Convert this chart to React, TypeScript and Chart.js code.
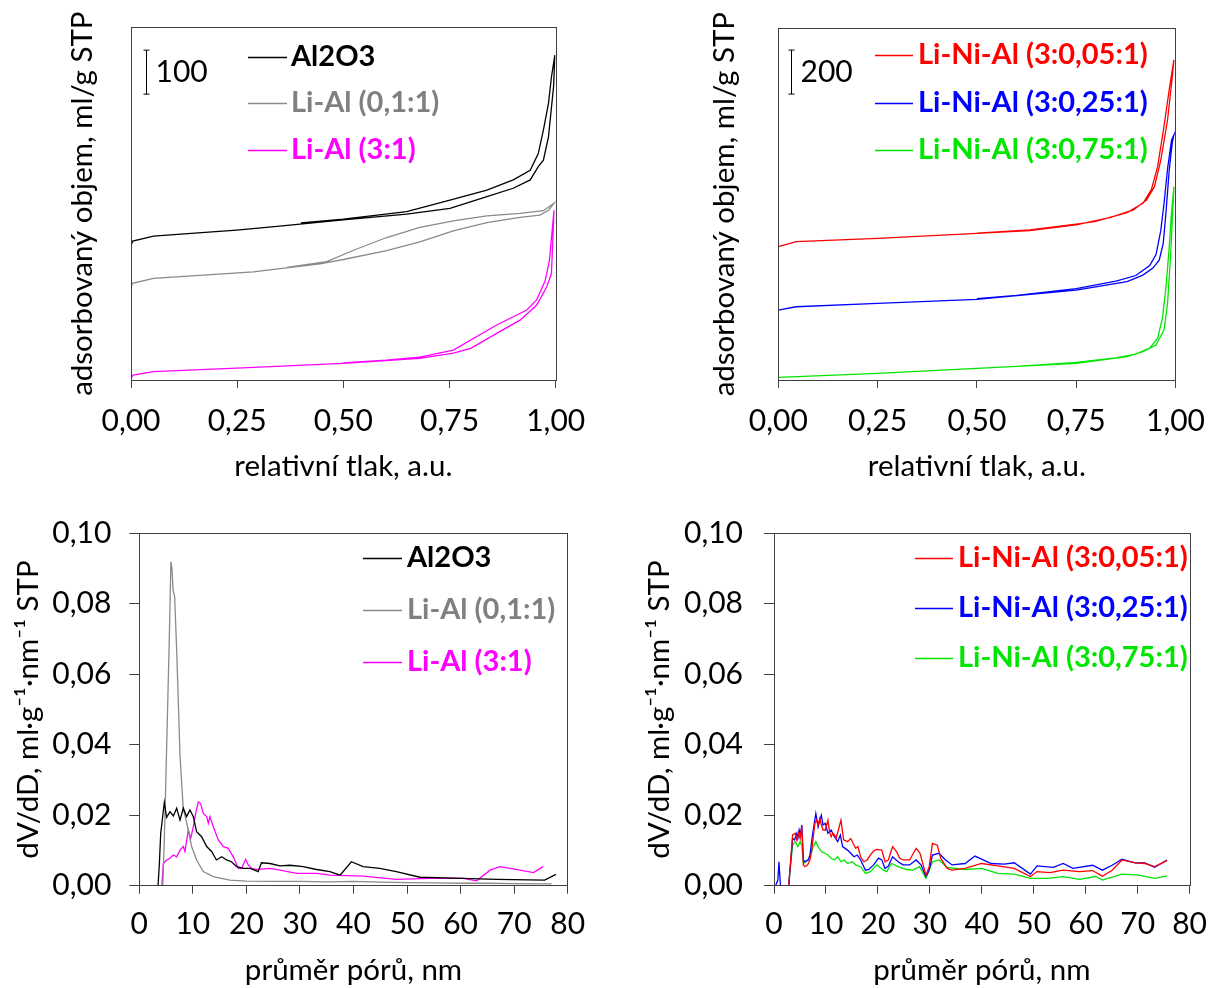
import React, { useEffect, useRef } from 'react';
import { Chart, registerables } from 'chart.js';

Chart.register(...registerables);

const FONT = 'Lato, "Noto Sans", sans-serif';
const FS_TICK = 30;
const FS_TITLE = 29.5;
const FS_LEGEND = 29;

// ---------- Top-left: isotherms (relative pressure vs adsorbed volume, offset curves) ----------
const al2o3AdsX = [0.0, 0.004, 0.053, 0.15, 0.249, 0.35, 0.5, 0.649, 0.751, 0.838, 0.9, 0.94, 0.959, 0.971, 0.983, 0.995, 0.998];
const al2o3AdsY = [306, 316, 327, 334, 341, 350, 364, 377, 390, 417, 436, 455, 485, 500, 553, 667, 739];
const al2o3DesX = [0.998, 0.99, 0.983, 0.971, 0.959, 0.94, 0.9, 0.838, 0.751, 0.649, 0.5, 0.4];
const al2o3DesY = [739, 689, 629, 568, 515, 477, 455, 432, 409, 383, 366, 357];

const liAl01AdsX = [0.0, 0.003, 0.053, 0.288, 0.445, 0.5, 0.602, 0.68, 0.759, 0.838, 0.916, 0.963, 0.983, 0.996];
const liAl01AdsY = [208, 220, 231, 246, 264, 274, 294, 314, 339, 358, 370, 375, 386, 402];
const liAl01DesX = [0.996, 0.971, 0.916, 0.838, 0.759, 0.68, 0.602, 0.524, 0.461, 0.367];
const liAl01DesY = [402, 385, 379, 373, 362, 347, 324, 295, 269, 256];

const liAl31AdsX = [0.0, 0.005, 0.053, 0.249, 0.5, 0.68, 0.759, 0.8, 0.861, 0.916, 0.955, 0.979, 0.99, 0.996];
const liAl31AdsY = [4, 11, 19, 27, 38, 49, 61, 72, 106, 136, 170, 212, 242, 386];
const liAl31DesX = [0.996, 0.985, 0.975, 0.955, 0.932, 0.861, 0.759, 0.68, 0.6, 0.5];
const liAl31DesY = [386, 270, 225, 182, 159, 125, 68, 52, 45, 39];

// ---------- Top-right: isotherms Li-Ni-Al ----------
const ni005AdsX = [0.0, 0.045, 0.25, 0.5, 0.633, 0.75, 0.837, 0.894, 0.927, 0.947, 0.963, 0.98, 0.992, 0.996];
const ni005AdsY = [606, 629, 644, 667, 679, 705, 739, 773, 818, 879, 1000, 1182, 1379, 1455];
const ni005DesX = [0.996, 0.984, 0.971, 0.955, 0.939, 0.918, 0.878, 0.796, 0.75, 0.633, 0.5];
const ni005DesY = [1455, 1318, 1152, 970, 864, 803, 761, 720, 709, 682, 668];

const ni025AdsX = [0.0, 0.045, 0.25, 0.5, 0.75, 0.878, 0.918, 0.943, 0.959, 0.969, 0.976, 0.984, 0.992, 0.996];
const ni025AdsY = [318, 333, 348, 367, 409, 447, 477, 509, 545, 620, 760, 950, 1080, 1114];
const ni025DesX = [0.996, 0.99, 0.98, 0.971, 0.963, 0.951, 0.935, 0.9, 0.85, 0.75, 0.6, 0.5];
const ni025DesY = [1114, 1090, 960, 800, 680, 570, 520, 475, 450, 415, 385, 370];

const ni075AdsX = [0.0, 0.25, 0.5, 0.75, 0.878, 0.918, 0.951, 0.971, 0.98, 0.988, 0.996];
const ni075AdsY = [12, 30, 53, 76, 106, 129, 159, 227, 348, 576, 879];
const ni075DesX = [0.996, 0.99, 0.984, 0.976, 0.967, 0.955, 0.935, 0.9, 0.85, 0.75, 0.6];
const ni075DesY = [879, 760, 600, 420, 280, 190, 145, 118, 100, 80, 62];

// ---------- Bottom-left: pore size distribution ----------
const psdAl2o3X = [3.3, 3.5, 3.74, 4.0, 4.67, 5.1, 5.73, 6.35, 6.98, 7.6, 8.22, 8.84, 9.46, 10.09, 10.7, 11.64, 12.58, 13.5, 14.4, 15.4, 16.3, 17.2, 18.2, 19.4, 20.7, 22.2, 22.8, 24.4, 26.3, 28.1, 30.6, 33.1, 35.6, 37.5, 39.6, 41.8, 44.9, 48.0, 52.4, 60.5, 66.7, 75.7, 77.8];
const psdAl2o3Y = [0, 0, 0.006, 0.0149, 0.0236, 0.0194, 0.021, 0.0198, 0.022, 0.0186, 0.022, 0.0196, 0.0215, 0.0196, 0.0153, 0.0139, 0.0111, 0.0097, 0.0073, 0.0082, 0.0073, 0.0068, 0.0054, 0.0049, 0.0049, 0.004, 0.0065, 0.0063, 0.0056, 0.0058, 0.0054, 0.0046, 0.004, 0.003, 0.0068, 0.0054, 0.0049, 0.004, 0.0024, 0.0021, 0.0018, 0.0016, 0.0032];

const psdLiAl01X = [3.3, 4.4, 4.8, 5.2, 5.6, 5.9, 6.1, 6.3, 6.6, 7.0, 7.6, 8.2, 9.15, 9.77, 10.7, 11.95, 13.8, 16.9, 20, 25, 30, 35, 40, 45, 50, 55, 60, 65, 70, 77];
const psdLiAl01Y = [0, 0, 0.02, 0.045, 0.07, 0.092, 0.09, 0.084, 0.082, 0.066, 0.037, 0.022, 0.0158, 0.0111, 0.0073, 0.004, 0.0026, 0.0016, 0.0013, 0.0012, 0.0012, 0.0011, 0.0012, 0.001, 0.0009, 0.0008, 0.0007, 0.0007, 0.0006, 0.0005];

const psdLiAl31X = [0.4, 4.2, 4.49, 5.1, 5.73, 6.35, 6.98, 7.6, 8.22, 8.53, 9.15, 9.59, 10.09, 10.52, 11.02, 11.46, 11.95, 12.58, 12.89, 13.2, 13.82, 14.75, 15.69, 16.62, 17.55, 18.49, 19.1, 19.86, 20.35, 20.98, 21.9, 24.4, 26.3, 29.4, 33.1, 35.6, 41.8, 48, 54.3, 60.5, 63, 65.5, 67.3, 69.8, 73.6, 75.4];
const psdLiAl31Y = [0, 0, 0.0063, 0.0073, 0.0078, 0.0087, 0.0082, 0.0101, 0.0111, 0.0097, 0.0158, 0.0134, 0.0167, 0.0205, 0.0238, 0.0233, 0.0205, 0.0196, 0.0177, 0.0196, 0.0167, 0.013, 0.0111, 0.0106, 0.0082, 0.0049, 0.0049, 0.0075, 0.0059, 0.0049, 0.0046, 0.0049, 0.0044, 0.0035, 0.0035, 0.003, 0.0027, 0.0018, 0.0021, 0.0021, 0.0014, 0.0044, 0.0054, 0.0048, 0.0037, 0.0054];

// ---------- Bottom-right: pore size distribution Li-Ni-Al ----------
const psdNi005X = [0.3, 2.83, 3.58, 4.09, 4.4, 4.72, 5.03, 5.35, 5.66, 5.97, 6.48, 6.92, 7.23, 7.86, 8.18, 8.49, 8.81, 9.12, 9.43, 9.87, 10.38, 10.69, 11.0, 11.32, 11.64, 11.95, 12.39, 12.89, 13.4, 14.15, 14.78, 15.41, 15.72, 16.16, 16.67, 17.3, 17.92, 18.55, 19.18, 19.81, 20.75, 21.38, 22.01, 22.83, 23.58, 24.21, 24.84, 26.1, 27.36, 28.11, 29.25, 29.87, 30.5, 31.45, 32.08, 33.33, 34.28, 36.79, 39.94, 43.08, 46.23, 49.37, 50.63, 53.14, 55.66, 58.8, 61.32, 63.21, 65.09, 66.98, 69.5, 71.38, 73.27, 75.66];
const psdNi005Y = [0, 0, 0.0144, 0.0149, 0.013, 0.0149, 0.0134, 0.0167, 0.0059, 0.0054, 0.0059, 0.0073, 0.0097, 0.0177, 0.0186, 0.0172, 0.0191, 0.0172, 0.0158, 0.0158, 0.0186, 0.0153, 0.0139, 0.0149, 0.0144, 0.0134, 0.0158, 0.0186, 0.013, 0.0125, 0.0134, 0.0115, 0.0106, 0.0111, 0.0082, 0.0068, 0.0073, 0.0087, 0.0099, 0.0103, 0.0101, 0.0068, 0.0073, 0.0111, 0.0097, 0.0078, 0.0073, 0.0073, 0.0106, 0.0092, 0.003, 0.0054, 0.012, 0.0115, 0.0078, 0.0049, 0.0044, 0.0049, 0.0063, 0.0056, 0.0049, 0.0026, 0.004, 0.0037, 0.0044, 0.004, 0.0043, 0.0027, 0.0044, 0.0073, 0.0065, 0.0063, 0.0054, 0.0071];

const psdNi025X = [0.3, 0.75, 0.95, 1.25, 2.83, 3.58, 3.96, 4.4, 4.59, 4.84, 5.09, 5.35, 5.66, 5.97, 6.6, 6.92, 7.36, 8.05, 8.49, 8.81, 9.12, 9.43, 9.87, 10.38, 11.0, 11.64, 12.26, 12.77, 13.2, 14.15, 14.78, 15.41, 16.04, 16.67, 17.61, 18.24, 19.18, 20.13, 20.75, 21.38, 22.01, 22.83, 23.9, 24.84, 26.1, 27.36, 28.3, 29.25, 29.87, 30.5, 31.76, 33.02, 34.28, 36.79, 38.68, 41.82, 44.34, 46.23, 49.37, 50.63, 53.77, 55.66, 57.55, 61.32, 63.21, 65.09, 66.98, 69.5, 71.38, 73.27, 75.66];
const psdNi025Y = [0.0, 0.0016, 0.0068, 0, 0, 0.0134, 0.013, 0.0149, 0.0134, 0.0158, 0.0144, 0.0172, 0.0073, 0.0068, 0.0073, 0.0087, 0.0139, 0.0205, 0.0167, 0.0186, 0.02, 0.0172, 0.0177, 0.0149, 0.0158, 0.0139, 0.0125, 0.0144, 0.0111, 0.0101, 0.0092, 0.0082, 0.0087, 0.0073, 0.0044, 0.0046, 0.0059, 0.0078, 0.0073, 0.0049, 0.0056, 0.0082, 0.0068, 0.0059, 0.0059, 0.0073, 0.0059, 0.0026, 0.0044, 0.0087, 0.0092, 0.0073, 0.0059, 0.0063, 0.0084, 0.0063, 0.0061, 0.0065, 0.0033, 0.0056, 0.0052, 0.0063, 0.0049, 0.0058, 0.0044, 0.0058, 0.0075, 0.0065, 0.0065, 0.0052, 0.0073];

const psdNi075X = [0.3, 2.83, 3.58, 4.09, 4.59, 5.03, 5.35, 5.66, 6.1, 6.92, 7.55, 8.05, 8.49, 9.12, 9.75, 10.38, 11.0, 11.64, 12.26, 12.89, 13.52, 14.15, 15.1, 15.72, 16.67, 17.61, 18.55, 19.81, 21.07, 21.7, 22.64, 23.9, 25.47, 26.73, 27.99, 29.25, 30.5, 31.76, 33.33, 36.79, 39.94, 43.08, 46.23, 49.37, 52.52, 55.66, 58.8, 61.95, 63.21, 66.98, 70.13, 73.27, 75.66];
const psdNi075Y = [0, 0, 0.0115, 0.0125, 0.0111, 0.0125, 0.0115, 0.0063, 0.0068, 0.008, 0.0111, 0.0125, 0.0111, 0.0097, 0.0092, 0.0087, 0.0078, 0.0073, 0.0082, 0.0068, 0.0073, 0.0063, 0.0068, 0.0059, 0.0054, 0.0035, 0.004, 0.0059, 0.0044, 0.004, 0.0063, 0.0054, 0.0046, 0.0044, 0.0054, 0.0021, 0.0068, 0.0073, 0.0052, 0.0046, 0.0049, 0.0035, 0.0033, 0.0021, 0.0021, 0.0026, 0.0018, 0.0026, 0.0016, 0.0033, 0.003, 0.0021, 0.0028];

// ---------- Labels & ticks ----------
const topXTicks = [0, 0.25, 0.5, 0.75, 1];
const bottomXTicks = [0, 10, 20, 30, 40, 50, 60, 70, 80];
const bottomYTicks = [0, 0.02, 0.04, 0.06, 0.08, 0.1];
const seriesLeft = ['Al2O3', 'Li-Al (0,1:1)', 'Li-Al (3:1)'];
const seriesRight = ['Li-Ni-Al (3:0,05:1)', 'Li-Ni-Al (3:0,25:1)', 'Li-Ni-Al (3:0,75:1)'];
const colorsLeft = ['#000000', '#8a8a8a', '#ff00ff'];
const colorsRight = ['#ff0000', '#0000ff', '#00e600'];
const legendColorsLeft = ['#000000', '#808080', '#ff00ff'];
const isoYTitle = 'adsorbovaný objem, ml/g STP';
const isoXTitle = 'relativní tlak, a.u.';
const psdYTitle = 'dV/dD, ml·g⁻¹·nm⁻¹ STP';
const psdXTitle = 'průměr pórů, nm';
const scaleBarLeft = { x: 0.0346, from: 650, to: 750, label: '100' };
const scaleBarRight = { x: 0.0328, from: 1300, to: 1500, label: '200' };

const AXIS = '#404040';

function pts(xs: number[], ys: number[]) {
  return xs.map((x, i) => ({ x, y: ys[i] }));
}
function loop(ax: number[], ay: number[], dx: number[], dy: number[]) {
  return [...pts(ax, ay), ...pts(dx, dy)];
}
function fmt(v: number, d: number) {
  return v.toFixed(d).replace('.', ',');
}

type Legend = { x0: number; x1: number; tx: number; rows: number[]; colors: string[] };
type Bar = { x: number; from: number; to: number; label: string };

function makePlugins(legend: Legend, bar?: Bar) {
  return [
    {
      id: 'frame',
      afterDatasetsDraw(chart: any) {
        const { ctx, chartArea: a } = chart;
        ctx.save();
        ctx.strokeStyle = AXIS;
        ctx.lineWidth = 1;
        ctx.strokeRect(Math.round(a.left) + 0.5, Math.round(a.top) + 0.5, Math.round(a.right - a.left), Math.round(a.bottom - a.top));
        ctx.restore();
      },
    },
    {
      id: 'inlineLegend',
      afterDraw(chart: any) {
        const { ctx } = chart;
        ctx.save();
        chart.data.datasets.forEach((ds: any, i: number) => {
          const y = legend.rows[i];
          ctx.strokeStyle = ds.borderColor;
          ctx.lineWidth = 1.3;
          ctx.beginPath();
          ctx.moveTo(legend.x0, y + 0.5);
          ctx.lineTo(legend.x1, y + 0.5);
          ctx.stroke();
          ctx.fillStyle = legend.colors[i];
          ctx.font = `bold ${FS_LEGEND}px ${FONT}`;
          ctx.textBaseline = 'middle';
          ctx.textAlign = 'left';
          ctx.fillText(ds.label, legend.tx, y);
        });
        ctx.restore();
      },
    },
    {
      id: 'scaleBar',
      afterDraw(chart: any) {
        if (!bar) return;
        const { ctx, scales } = chart;
        const x = Math.round(scales.x.getPixelForValue(bar.x)) + 0.5;
        const y0 = scales.y.getPixelForValue(bar.from);
        const y1 = scales.y.getPixelForValue(bar.to);
        ctx.save();
        ctx.strokeStyle = '#000';
        ctx.lineWidth = 1;
        ctx.beginPath();
        ctx.moveTo(x, y0);
        ctx.lineTo(x, y1);
        ctx.moveTo(x - 3, y0);
        ctx.lineTo(x + 3, y0);
        ctx.moveTo(x - 3, y1);
        ctx.lineTo(x + 3, y1);
        ctx.stroke();
        ctx.fillStyle = '#000';
        ctx.font = `${FS_TICK}px ${FONT}`;
        ctx.textBaseline = 'middle';
        ctx.textAlign = 'left';
        ctx.fillText(bar.label, x + 9, (y0 + y1) / 2);
        ctx.restore();
      },
    },
  ];
}

type Panel = {
  datasets: { label: string; color: string; data: { x: number; y: number }[] }[];
  xMin: number; xMax: number; xTicks: number[]; xDec: number;
  yMin: number; yMax: number; yTicks: number[] | null; yDec: number;
  xTitle: string; yTitle: string;
  yAxisW: number; xAxisH: number; padTop: number; padRight: number;
  yTitlePad: number; xTitlePad: number; xTickPad: number; yTickPad: number;
  legend: Legend; bar?: Bar;
};

function buildConfig(p: Panel): any {
  const tickFont = { family: FONT, size: FS_TICK };
  const titleFont = { family: FONT, size: FS_TITLE };
  return {
    type: 'line',
    data: {
      datasets: p.datasets.map((d) => ({
        label: d.label,
        data: d.data,
        borderColor: d.color,
        backgroundColor: d.color,
        borderWidth: 1.3,
        pointRadius: 0,
        tension: 0,
        fill: false,
      })),
    },
    options: {
      animation: false,
      responsive: false,
      events: [],
      layout: { padding: { top: p.padTop, right: p.padRight, left: 0, bottom: 0 } },
      plugins: { legend: { display: false }, tooltip: { enabled: false } },
      scales: {
        x: {
          type: 'linear',
          min: p.xMin,
          max: p.xMax,
          afterBuildTicks: (s: any) => { s.ticks = p.xTicks.map((v) => ({ value: v })); },
          afterFit: (s: any) => { s.height = p.xAxisH; },
          ticks: {
            autoSkip: false, maxRotation: 0, minRotation: 0,
            color: '#000', font: tickFont, padding: p.xTickPad,
            callback: (v: number) => fmt(v, p.xDec),
          },
          grid: { display: true, drawOnChartArea: false, drawTicks: true, tickLength: 8, color: AXIS, lineWidth: 1 },
          border: { display: false },
          title: { display: true, text: p.xTitle, color: '#000', font: titleFont, padding: { top: 0, bottom: p.xTitlePad } },
        },
        y: {
          type: 'linear',
          min: p.yMin,
          max: p.yMax,
          afterBuildTicks: (s: any) => { s.ticks = (p.yTicks || []).map((v) => ({ value: v })); },
          afterFit: (s: any) => { s.width = p.yAxisW; },
          ticks: {
            display: !!p.yTicks,
            color: '#000', font: tickFont, padding: p.yTickPad,
            callback: (v: number) => fmt(v, p.yDec),
          },
          grid: { display: !!p.yTicks, drawOnChartArea: false, drawTicks: true, tickLength: 10, color: AXIS, lineWidth: 1 },
          border: { display: false },
          title: { display: true, text: p.yTitle, color: '#000', font: titleFont, padding: { top: p.yTitlePad, bottom: 0 } },
        },
      },
    },
    plugins: makePlugins(p.legend, p.bar),
  };
}

const panels: { left: number; top: number; panel: Panel }[] = [
  {
    left: 0, top: 0,
    panel: {
      datasets: [
        { label: seriesLeft[0], color: colorsLeft[0], data: loop(al2o3AdsX, al2o3AdsY, al2o3DesX, al2o3DesY) },
        { label: seriesLeft[1], color: colorsLeft[1], data: loop(liAl01AdsX, liAl01AdsY, liAl01DesX, liAl01DesY) },
        { label: seriesLeft[2], color: colorsLeft[2], data: loop(liAl31AdsX, liAl31AdsY, liAl31DesX, liAl31DesY) },
      ],
      xMin: 0, xMax: 1, xTicks: topXTicks, xDec: 2,
      yMin: 0, yMax: 802, yTicks: null, yDec: 0,
      xTitle: isoXTitle, yTitle: isoYTitle,
      yAxisW: 131, xAxisH: 114, padTop: 27.3, padRight: 54.3,
      yTitlePad: 64.5, xTitlePad: 10.3, xTickPad: 15, yTickPad: 0,
      legend: { x0: 248, x1: 287, tx: 291, rows: [57, 103, 150], colors: legendColorsLeft },
      bar: scaleBarLeft,
    },
  },
  {
    left: 610, top: 0,
    panel: {
      datasets: [
        { label: seriesRight[0], color: colorsRight[0], data: loop(ni005AdsX, ni005AdsY, ni005DesX, ni005DesY) },
        { label: seriesRight[1], color: colorsRight[1], data: loop(ni025AdsX, ni025AdsY, ni025DesX, ni025DesY) },
        { label: seriesRight[2], color: colorsRight[2], data: loop(ni075AdsX, ni075AdsY, ni075DesX, ni075DesY) },
      ],
      xMin: 0, xMax: 1, xTicks: topXTicks, xDec: 2,
      yMin: 0, yMax: 1599, yTicks: null, yDec: 0,
      xTitle: isoXTitle, yTitle: isoYTitle,
      yAxisW: 168.3, xAxisH: 114, padTop: 28.3, padRight: 33.3,
      yTitlePad: 97, xTitlePad: 10.3, xTickPad: 15, yTickPad: 0,
      legend: { x0: 265, x1: 303, tx: 308, rows: [55, 103, 150], colors: colorsRight },
      bar: scaleBarRight,
    },
  },
  {
    left: 0, top: 494,
    panel: {
      datasets: [
        { label: seriesLeft[0], color: colorsLeft[0], data: pts(psdAl2o3X, psdAl2o3Y) },
        { label: seriesLeft[1], color: colorsLeft[1], data: pts(psdLiAl01X, psdLiAl01Y) },
        { label: seriesLeft[2], color: colorsLeft[2], data: pts(psdLiAl31X, psdLiAl31Y) },
      ],
      xMin: 0, xMax: 80, xTicks: bottomXTicks, xDec: 0,
      yMin: 0, yMax: 0.1, yTicks: bottomYTicks, yDec: 2,
      xTitle: psdXTitle, yTitle: psdYTitle,
      yAxisW: 139.3, xAxisH: 102.3, padTop: 39.3, padRight: 42.3,
      yTitlePad: 10.3, xTitlePad: 0, xTickPad: 13, yTickPad: 18,
      legend: { x0: 363, x1: 402, tx: 407, rows: [64, 116, 168], colors: legendColorsLeft },
    },
  },
  {
    left: 610, top: 494,
    panel: {
      datasets: [
        { label: seriesRight[0], color: colorsRight[0], data: pts(psdNi005X, psdNi005Y) },
        { label: seriesRight[1], color: colorsRight[1], data: pts(psdNi025X, psdNi025Y) },
        { label: seriesRight[2], color: colorsRight[2], data: pts(psdNi075X, psdNi075Y) },
      ],
      xMin: 0, xMax: 80, xTicks: bottomXTicks, xDec: 0,
      yMin: 0, yMax: 0.1, yTicks: bottomYTicks, yDec: 2,
      xTitle: psdXTitle, yTitle: psdYTitle,
      yAxisW: 164, xAxisH: 102.3, padTop: 39.3, padRight: 21,
      yTitlePad: 32, xTitlePad: 0, xTickPad: 13, yTickPad: 21,
      legend: { x0: 305, x1: 343, tx: 348, rows: [64, 114, 164], colors: colorsRight },
    },
  },
];

function PanelCanvas({ left, top, panel }: { left: number; top: number; panel: Panel }) {
  const ref = useRef<HTMLCanvasElement | null>(null);
  useEffect(() => {
    if (!ref.current) return;
    const chart = new Chart(ref.current, buildConfig(panel));
    return () => chart.destroy();
  }, []);
  return (
    <canvas
      ref={ref}
      width={610}
      height={494}
      style={{ position: 'absolute', left, top, width: 610, height: 494 }}
    />
  );
}

export default function App() {
  return (
    <div style={{ position: 'absolute', left: 0, top: 0, width: 1220, height: 988, background: '#fff' }}>
      {panels.map((p, i) => (
        <PanelCanvas key={i} left={p.left} top={p.top} panel={p.panel} />
      ))}
    </div>
  );
}
